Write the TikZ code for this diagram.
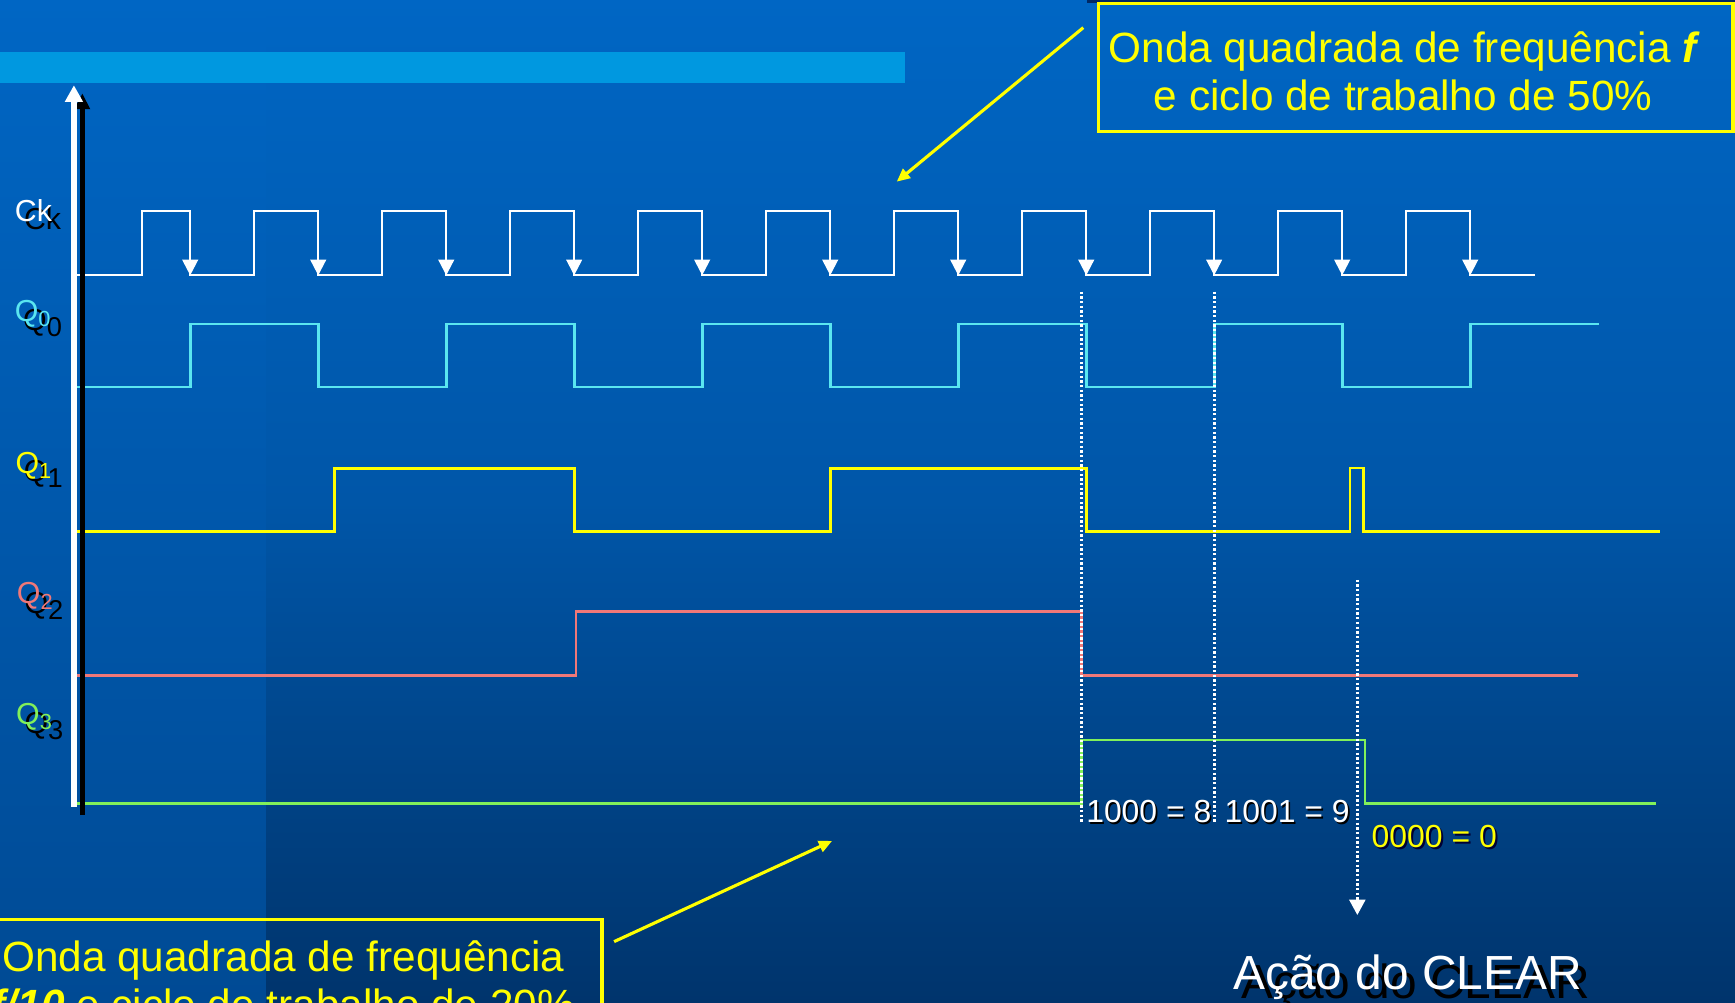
\documentclass[tikz,border=0pt]{standalone}
\usepackage{fontspec}
\setmainfont{Liberation Sans}
\usetikzlibrary{arrows.meta}
\definecolor{bgtop}{RGB}{0,102,196}
\definecolor{bgmid}{RGB}{0,86,168}
\definecolor{bgbot}{RGB}{0,52,108}
\definecolor{bglmid}{RGB}{0,88,172}
\definecolor{bglbot}{RGB}{0,74,148}
\definecolor{barblue}{RGB}{0,152,224}
\definecolor{topdark}{RGB}{0,40,100}
\definecolor{sigcyan}{RGB}{90,230,240}
\definecolor{sigyel}{RGB}{255,255,0}
\definecolor{sigpink}{RGB}{240,120,120}
\definecolor{siggreen}{RGB}{130,240,90}
\pgfdeclareverticalshading{bgright}{100bp}{color(0bp)=(bgbot); color(25bp)=(bgbot); color(50bp)=(bgmid); color(75bp)=(bgtop); color(100bp)=(bgtop)}
\pgfdeclareverticalshading{bgleft}{100bp}{color(0bp)=(bglbot); color(25bp)=(bglbot); color(50bp)=(bglmid); color(75bp)=(bgtop); color(100bp)=(bgtop)}
\tikzset{
  ckline/.style={white, line width=0.55pt, line join=miter},
  ckarr/.style={white, line width=0.55pt, -{Triangle[width=4pt,length=4pt]}},
  wave/.style={line width=0.7pt, line join=miter},
  axisw/.style={white, line width=1.45pt, -{Triangle[width=4.4pt,length=4.3pt]}},
  axisb/.style={black, line width=1.45pt, -{Triangle[width=3.8pt,length=4.1pt]}},
  dotline/.style={white, line width=0.75pt, dash pattern=on 0.6pt off 0.6pt},
  dotarr/.style={dotline, -{Triangle[width=4.1pt,length=4pt]}},
  callout/.style={sigyel, line width=0.8pt, -{Triangle[width=3pt,length=3.4pt]}},
  ybox/.style={draw=sigyel, line width=0.9pt, rectangle, inner sep=0},
  bigtxt/.style={text=sigyel, font=\fontsize{10.87}{12.43}\selectfont, inner sep=0, anchor=base},
  lbl/.style={font=\fontsize{7.8}{9}\selectfont, inner sep=0, anchor=base west},
  numtxt/.style={font=\fontsize{8.2}{9}\selectfont, inner sep=0, anchor=base west},
  cleartxt/.style={font=\fontsize{12.3}{14}\selectfont, inner sep=0, anchor=base}
}
\newcommand{\qlab}[1]{Q\raisebox{-0.18em}{\fontsize{5.6}{6}\selectfont #1}}
\newcommand{\qshad}[1]{Q\raisebox{-0.2em}{\fontsize{7}{8}\selectfont #1}}
\begin{document}
\begin{tikzpicture}[x=0.01cm,y=-0.01cm]
\useasboundingbox (0,0) rectangle (1568,906);
\clip (0,0) rectangle (1568,906);
% background
\shade[shading=bgright] (0,0) rectangle (1568,906);
\shade[shading=bgleft] (0,0) rectangle (240,906);
\fill[topdark] (982,0) rectangle (1568,2.5);
\fill[barblue] (0,46.7) rectangle (818,75.3);

% clock
\draw[ckline] (67,248.8) -- (128,248.8) -- (128,191) -- (171.9,191) -- (171.9,248.8)
 -- (229.7,248.8) -- (229.7,191) -- (287.6,191) -- (287.6,248.8)
 -- (345.4,248.8) -- (345.4,191) -- (403.3,191) -- (403.3,248.8)
 -- (461.1,248.8) -- (461.1,191) -- (518.9,191) -- (518.9,248.8)
 -- (576.8,248.8) -- (576.8,191) -- (634.6,191) -- (634.6,248.8)
 -- (692.4,248.8) -- (692.4,191) -- (750.3,191) -- (750.3,248.8)
 -- (808.1,248.8) -- (808.1,191) -- (866.0,191) -- (866.0,248.8)
 -- (923.8,248.8) -- (923.8,191) -- (981.7,191) -- (981.7,248.8)
 -- (1039.5,248.8) -- (1039.5,191) -- (1097.3,191) -- (1097.3,248.8)
 -- (1155.2,248.8) -- (1155.2,191) -- (1213.0,191) -- (1213.0,248.8)
 -- (1270.8,248.8) -- (1270.8,191) -- (1328.7,191) -- (1328.7,248.8)
 -- (1387,248.8);
\foreach \x in {171.9,287.6,403.3,518.9,634.6,750.3,866.0,981.7,1097.3,1213.0,1328.7}
  \draw[ckarr] (\x,222) -- (\x,248.8);

% Q0
\draw[wave, sigcyan] (67,349.8) -- (171.9,349.8) -- (171.9,292.8) -- (287.6,292.8) -- (287.6,349.8)
 -- (403.3,349.8) -- (403.3,292.8) -- (518.9,292.8) -- (518.9,349.8)
 -- (634.6,349.8) -- (634.6,292.8) -- (750.3,292.8) -- (750.3,349.8)
 -- (866.0,349.8) -- (866.0,292.8) -- (981.7,292.8) -- (981.7,349.8)
 -- (1097.3,349.8) -- (1097.3,292.8) -- (1213.0,292.8) -- (1213.0,349.8)
 -- (1328.7,349.8) -- (1328.7,292.8) -- (1445,292.8);
% Q1
\draw[wave, sigyel] (67,480.5) -- (302,480.5) -- (302,423.3) -- (518.9,423.3) -- (518.9,480.5)
 -- (750.3,480.5) -- (750.3,423.3) -- (981.7,423.3) -- (981.7,480.5)
 -- (1220,480.5) -- (1220,423) -- (1232,423) -- (1232,480.5) -- (1500,480.5);
% Q2
\draw[wave, sigpink] (66,610.6) -- (520.6,610.6) -- (520.6,552.8) -- (977.5,552.8) -- (977.5,610.6) -- (1426,610.6);
% Q3
\draw[wave, siggreen] (67,726) -- (977.5,726) -- (977.5,668.8) -- (1233.6,668.8) -- (1233.6,726) -- (1497,726);

% axes
\coordinate (axbB) at (74.4,736.6);
\coordinate (axbT) at (74.4,84.3);
\coordinate (axwB) at (66.8,729);
\coordinate (axwT) at (66.8,77);
\draw[axisb] (axbB) -- (axbT);
\draw[axisw] (axwB) -- (axwT);

% dotted markers
\coordinate (d1t) at (977.5,263.6);
\coordinate (d1b) at (977.5,742.6);
\coordinate (d2t) at (1097.4,263.6);
\coordinate (d2b) at (1097.4,742.6);
\coordinate (d3t) at (1226.7,524);
\coordinate (d3b) at (1226.7,827);
\draw[dotline] (d1t) -- (d1b);
\draw[dotline] (d2t) -- (d2b);
\draw[dotarr] (d3t) -- (d3b);

% signal labels
\node[lbl, black] (ckS) at (21,207.5) {Ck};
\node[lbl, white] (ckL) at (12.8,200) {Ck};
\node[lbl, black] (q0S) at (20.3,299) {\qshad{0}};
\node[lbl, sigcyan] (q0L) at (12.7,290.5) {\qlab{0}};
\node[lbl, black] (q1S) at (20.9,435) {\qshad{1}};
\node[lbl, sigyel] (q1L) at (13.4,427.5) {\qlab{1}};
\node[lbl, black] (q2S) at (21.5,554.5) {\qshad{2}};
\node[lbl, sigpink] (q2L) at (14.6,545.5) {\qlab{2}};
\node[lbl, black] (q3S) at (21.5,663) {\qshad{3}};
\node[lbl, siggreen] (q3L) at (13.9,654.5) {\qlab{3}};

% count labels
\node[numtxt, black] (n8S) at (982.5,745) {1000 = 8};
\node[numtxt, white] (n8) at (981,743.5) {1000 = 8};
\node[numtxt, black] (n9S) at (1107.5,745) {1001 = 9};
\node[numtxt, white] (n9) at (1106,743.5) {1001 = 9};
\node[numtxt, black!80!blue] (n0S) at (1240.8,767.6) {0000 = 0};
\node[numtxt, sigyel] (n0) at (1239,765.8) {0000 = 0};

% CLEAR label
\node[cleartxt, black] (clrS) at (1279.5,902.7) {Ação do CLEAR};
\node[cleartxt, white] (clr) at (1272.2,894.7) {Ação do CLEAR};

% upper callout
\node[ybox, minimum width=5.73cm, minimum height=1.16cm] (boxA) at (1279.5,61) {};
\node[bigtxt] (boxAl1) at (1269.3,56.6) {Onda quadrada de frequência \textbf{\textit{f}}};
\node[bigtxt] (boxAl2) at (1268,100.3) {e ciclo de trabalho de 50\%};
\coordinate (arA1) at (979,25);
\coordinate (arA2) at (810.4,164.2);
\draw[callout] (arA1) -- (arA2);

% lower callout
\node[ybox, minimum width=5.72cm, minimum height=1.3cm, anchor=north west] (boxB) at (-30,829.4) {};
\node[bigtxt] (boxBl1) at (256,878) {Onda quadrada de frequência};
\node[bigtxt] (boxBl2) at (256,921.7) {\textbf{\textit{f/10}} e ciclo de trabalho de 20\%};
\coordinate (arB1) at (555,851);
\coordinate (arB2) at (752,760);
\draw[callout] (arB1) -- (arB2);
\end{tikzpicture}
\end{document}
